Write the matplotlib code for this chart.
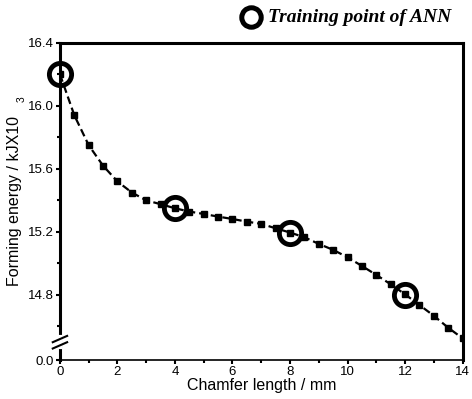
import matplotlib
matplotlib.use("Agg")
import matplotlib.pyplot as plt
from matplotlib.lines import Line2D

# Data
chamfer = [0.0, 0.5, 1.0, 1.5, 2.0, 2.5, 3.0, 3.5, 4.0, 4.5, 5.0, 5.5, 6.0, 6.5,
           7.0, 7.5, 8.0, 8.5, 9.0, 9.5, 10.0, 10.5, 11.0, 11.5, 12.0, 12.5, 13.0, 13.5, 14.0]
energy = [16.20, 15.94, 15.75, 15.62, 15.52, 15.45, 15.40, 15.376, 15.35, 15.329, 15.314,
          15.297, 15.282, 15.265, 15.251, 15.223, 15.196, 15.166, 15.124, 15.086, 15.039,
          14.984, 14.927, 14.868, 14.804, 14.736, 14.668, 14.592, 14.525]
train_x = [0, 4, 8, 12]
train_y = [16.20, 15.35, 15.19, 14.80]

ytick_vals = [14.387, 14.8, 15.2, 15.6, 16.0, 16.4]
ytick_labels = ["0.0", "14.8", "15.2", "15.6", "16.0", "16.4"]
xtick_vals = [0, 2, 4, 6, 8, 10, 12, 14]

plt.rcParams['font.family'] = ['Liberation Sans', 'DejaVu Sans']

fig = plt.figure(figsize=(4.72, 3.99), dpi=100)
ax = fig.add_axes([0.127, 0.0977, 0.853, 0.795])

ax.plot(chamfer, energy, color='black', linestyle=(0, (3.5, 1.8)), linewidth=1.6,
        marker='s', markersize=4.5, markerfacecolor='black', markeredgecolor='black')
ax.plot(train_x, train_y, linestyle='none', marker='o', markersize=16,
        markerfacecolor='none', markeredgecolor='black', markeredgewidth=3.5, clip_on=False, zorder=5)

ax.set_xlim(0, 14)
ax.set_ylim(14.387, 16.4)
ax.set_xticks(xtick_vals)
ax.set_xticks(range(0, 15), minor=True)
ax.set_yticks(ytick_vals)
ax.set_yticklabels(ytick_labels)
ax.set_yticks([14.6, 15.0, 15.4, 15.8, 16.2], minor=True)

for s in ['left', 'top', 'right']:
    ax.spines[s].set_linewidth(2.2)
ax.spines['bottom'].set_linewidth(1.2)

ax.tick_params(axis='both', which='major', direction='out', length=3, width=1.5,
               labelsize=9.5, pad=1.5)
ax.tick_params(axis='both', which='minor', direction='out', length=2, width=1.5)

ax.set_xlabel("Chamfer length / mm", fontsize=11.5, labelpad=0)
ax.set_ylabel("Forming energy / kJX10", fontsize=11.5, labelpad=4)
fig.text(0.045, 0.752, "3", fontsize=7.5, rotation=90, ha='center', va='center')

# axis break marks
bx = [-0.25, 0.25]
ax.plot([0, 0], [14.47, 14.53], color='white', linewidth=3, clip_on=False, zorder=4)
for dy in (0.0, 0.04):
    ax.plot(bx, [14.46 + dy, 14.50 + dy], color='black', linewidth=1.5, clip_on=False, zorder=6)

# legend
fig.add_artist(Line2D([0.532], [0.957], marker='o', markersize=14, markerfacecolor='none',
                      markeredgecolor='black', markeredgewidth=3.6, transform=fig.transFigure))
fig.text(0.567, 0.955, "Training point of ANN", fontsize=14, fontweight='bold',
         fontstyle='italic', family=['Liberation Serif', 'DejaVu Serif'], ha='left', va='center')

fig.savefig("out.png", dpi=100)
